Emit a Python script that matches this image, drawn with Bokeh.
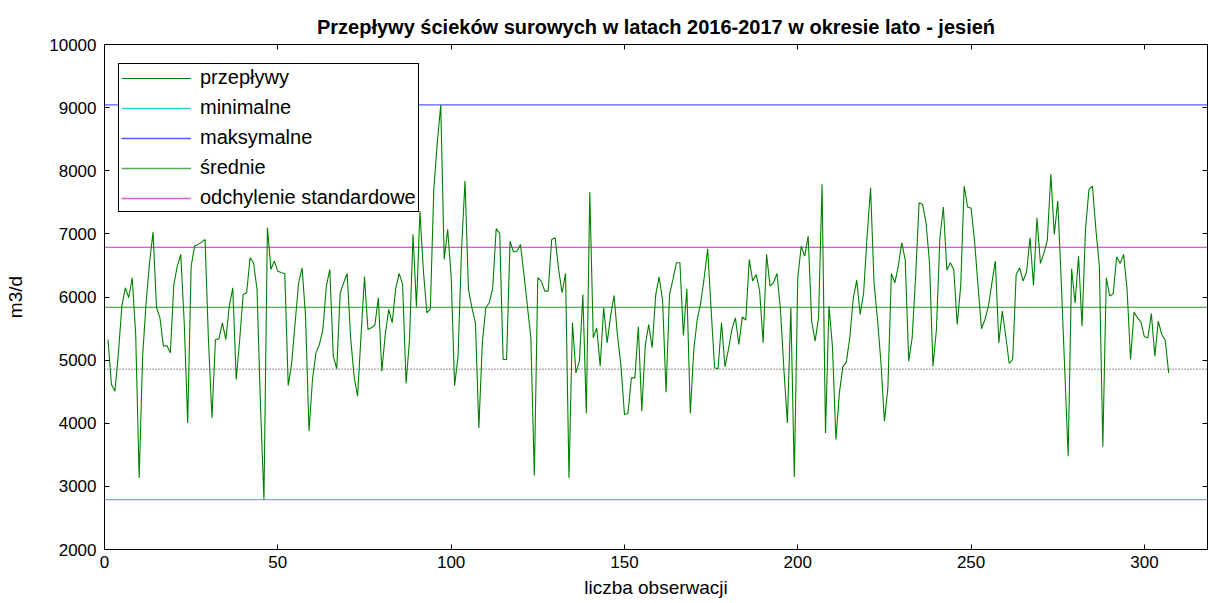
from bokeh.plotting import figure
from bokeh.models import LinearAxis, Range1d, Legend, LegendItem, FixedTicker
from bokeh.embed import file_html
from bokeh.resources import INLINE

tytul = "Przepływy ścieków surowych w latach 2016-2017 w okresie lato - jesień"

przeplywy = [
    5327, 4613, 4508, 5100, 5850, 6146, 5988, 6305, 5400, 3134,
    5063, 5908, 6543, 7029, 5829, 5670, 5221, 5232, 5115, 6199,
    6490, 6675, 5591, 4006, 6490, 6807, 6833, 6870, 6912, 5300,
    4085, 5327, 5337, 5591, 5327, 5856, 6146, 4693, 5327, 6040,
    6067, 6622, 6543, 6120, 4270, 2790, 7100, 6437, 6569, 6410,
    6384, 6373, 4597, 4957, 5591, 6225, 6463, 5697, 3873, 4693,
    5115, 5248, 5486, 6173, 6437, 5063, 4862, 6067, 6225, 6373,
    5353, 4745, 4428, 5380, 6320, 5486, 5512, 5554, 5987, 4825,
    5406, 5803, 5591, 6130, 6373, 6199, 4629, 5327, 6992, 5845,
    7362, 6410, 5750, 5813, 7705, 8445, 9042, 6595, 7071, 6331,
    4597, 5063, 6754, 7837, 6120, 5829, 5591, 3926, 5274, 5829,
    5908, 6146, 7082, 7008, 5010, 5010, 6886, 6712, 6728, 6833,
    6358, 5855, 5353, 3171, 6305, 6252, 6093, 6093, 6912, 6939,
    6437, 6067, 6373, 3134, 5591, 4798, 4984, 6040, 4154, 7663,
    5353, 5512, 4904, 5829, 5274, 5697, 6025, 5380, 4904, 4138,
    4154, 4719, 4719, 5528, 4191, 5232, 5565, 5195, 6025, 6320,
    5950, 4492, 6040, 6278, 6543, 6543, 5390, 6130, 4154, 5169,
    5644, 5908, 6305, 6765, 5803, 4878, 4862, 5591, 4894, 5169,
    5486, 5670, 5248, 5686, 5633, 6595, 6252, 6358, 6093, 5274,
    6675, 6173, 6225, 6373, 5803, 4851, 4006, 5829, 3150, 6305,
    6807, 6648, 6965, 5618, 5300, 5670, 7785, 3847, 5856, 5221,
    3741, 4481, 4894, 4968, 5353, 5972, 6268, 5723, 6067, 6965,
    7732, 6225, 5644, 4957, 4032, 4560, 6373, 6225, 6490, 6860,
    6585, 4984, 5353, 6331, 7494, 7467, 7177, 6543, 4904, 5486,
    6939, 7426, 6426, 6543, 6437, 5565, 6173, 7758, 7426, 7405,
    6886, 6173, 5496, 5644, 5856, 6225, 6569, 5274, 5776, 5380,
    4947, 5010, 6358, 6463, 6252, 6395, 6939, 6183, 7256, 6532,
    6691, 6902, 7943, 6992, 7520, 6257, 4867, 3477, 6447, 5900,
    6648, 5538, 7071, 7705, 7758, 7071, 6490, 3626, 6305, 6014,
    6056, 6638, 6532, 6675, 6120, 5010, 5760, 5670, 5602, 5369,
    5353, 5739, 5063, 5618, 5406, 5316, 4798,
]
obserwacje = list(range(1, len(przeplywy) + 1))

minimalne = 2790
maksymalne = 9042
srednie = 5836
odchylenie_gora = 6785
odchylenie_dol = 4857

x_lim = [0, 320]
x_view = [0, 318.2]
y_lim = [2000, 10000]
x_ticks = [0, 50, 100, 150, 200, 250, 300]
y_ticks = [2000, 3000, 4000, 5000, 6000, 7000, 8000, 9000, 10000]

FONT = "Liberation Sans"

p = figure(width=1209, height=603, x_range=Range1d(*x_view), y_range=Range1d(*y_lim),
           output_backend="svg", toolbar_location=None,
           min_border_left=104, min_border_top=44, min_border_right=2, min_border_bottom=54,
           title=tytul)
p.title.text_font = FONT
p.title.text_font_size = "20px"
p.title.text_font_style = "bold"
p.title.text_color = "black"
p.title.align = "center"
p.title.standoff = 14

p.xgrid.visible = False
p.ygrid.visible = False
p.outline_line_color = "black"
p.outline_line_alpha = 1
p.outline_line_width = 1
p.background_fill_color = "white"
p.border_fill_color = "white"

for ax in (p.xaxis[0], p.yaxis[0]):
    ax.axis_line_color = "black"
    ax.major_tick_line_color = "black"
    ax.major_tick_in = 5
    ax.major_tick_out = 0
    ax.minor_tick_in = 0
    ax.minor_tick_out = 0
    ax.major_label_text_font = FONT
    ax.major_label_text_font_size = "17px"
    ax.major_label_text_color = "black"
    ax.axis_label_text_font = FONT
    ax.axis_label_text_font_size = "19px"
    ax.axis_label_text_font_style = "normal"
    ax.axis_label_text_color = "black"

p.xaxis[0].ticker = FixedTicker(ticks=x_ticks)
p.yaxis[0].ticker = FixedTicker(ticks=y_ticks)
p.xaxis[0].axis_label = "liczba obserwacji"
p.yaxis[0].axis_label = "m3/d"
p.xaxis[0].major_label_standoff = 6
p.xaxis[0].axis_label_standoff = 6
p.yaxis[0].major_label_standoff = 8
p.yaxis[0].axis_label_standoff = 20

top_ax = LinearAxis(ticker=FixedTicker(ticks=x_ticks),
                    major_label_overrides={t: "" for t in x_ticks})
right_ax = LinearAxis(ticker=FixedTicker(ticks=y_ticks),
                      major_label_overrides={t: "" for t in y_ticks})
for ax in (top_ax, right_ax):
    ax.major_tick_in = 5
    ax.major_tick_out = 0
    ax.minor_tick_in = 0
    ax.minor_tick_out = 0
    ax.major_label_standoff = 0
    ax.axis_line_color = "black"
    ax.major_tick_line_color = "black"
p.add_layout(top_ax, "above")
p.add_layout(right_ax, "right")

r_dol = p.line(x_lim, [odchylenie_dol, odchylenie_dol], line_color="#4a104a", line_width=1, line_dash="1 2")
r_min = p.line(x_lim, [minimalne, minimalne], line_color="#2fd3d3", line_width=1.3)
r_max = p.line(x_lim, [maksymalne, maksymalne], line_color="#5a5aff", line_width=1.3)
r_sr = p.line(x_lim, [srednie, srednie], line_color="#5aa85a", line_width=1.3)
r_odch = p.line(x_lim, [odchylenie_gora, odchylenie_gora], line_color="#dd55dd", line_width=1.3)
r_data = p.line(obserwacje, przeplywy, line_color="#008000", line_width=1.1)

legend = Legend(items=[
    LegendItem(label="przepływy", renderers=[r_data]),
    LegendItem(label="minimalne", renderers=[r_min]),
    LegendItem(label="maksymalne", renderers=[r_max]),
    LegendItem(label="średnie", renderers=[r_sr]),
    LegendItem(label="odchylenie standardowe", renderers=[r_odch]),
], location=(14, 337))
legend.padding = 2
legend.spacing = 7
legend.glyph_width = 70
legend.glyph_height = 22
legend.label_height = 22
legend.label_standoff = 9
legend.label_text_font = FONT
legend.label_text_font_size = "20px"
legend.label_text_color = "black"
legend.border_line_color = "black"
legend.border_line_alpha = 1
legend.border_line_width = 1.5
legend.background_fill_alpha = 1
legend.background_fill_color = "white"
p.add_layout(legend, "center")

open("out.html", "w").write(file_html(p, INLINE))
